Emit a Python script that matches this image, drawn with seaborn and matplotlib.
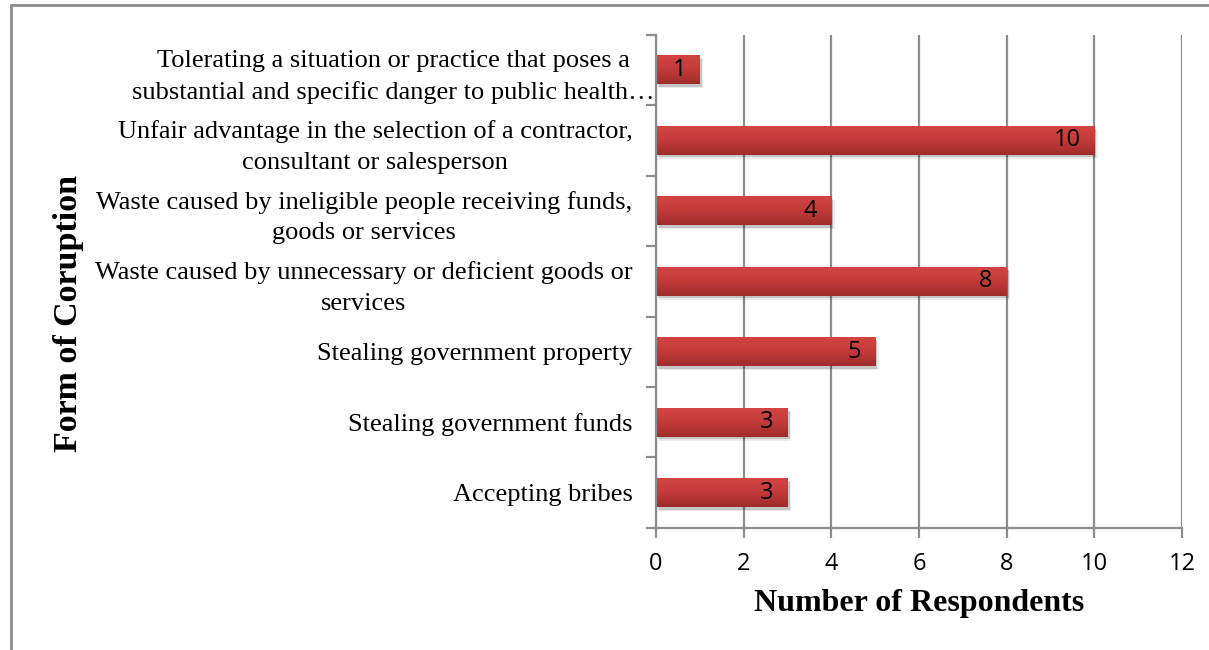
import numpy as np
import pandas as pd
import matplotlib
matplotlib.use("Agg")
import matplotlib.pyplot as plt
import seaborn as sns
from matplotlib import patheffects as pe
from matplotlib.colors import LinearSegmentedColormap
from matplotlib.lines import Line2D
from matplotlib.transforms import ScaledTranslation

# Survey results: forms of corruption observed and respondent counts
forms = [
    "Tolerating a situation or practice that poses a\nsubstantial and specific danger to public health\u2026",
    "Unfair advantage in the selection of a contractor,\nconsultant or salesperson",
    "Waste caused by ineligible people receiving funds,\ngoods or services",
    "Waste caused by unnecessary or deficient goods or\nservices",
    "Stealing government property",
    "Stealing government funds",
    "Accepting bribes",
]
respondents = [1, 10, 4, 8, 5, 3, 3]
x_ticks = [0, 2, 4, 6, 8, 10, 12]

df = pd.DataFrame({"form": forms, "count": respondents})

sns.set_theme(style="white")
plt.rcParams["font.family"] = ["Liberation Serif", "DejaVu Serif"]
plt.rcParams["text.color"] = "black"
plt.rcParams["axes.labelcolor"] = "black"
plt.rcParams["xtick.color"] = "black"
plt.rcParams["ytick.color"] = "black"

fig = plt.figure(figsize=(12.09, 6.5), dpi=100)
ax = fig.add_axes([0.5426, 0.1877, 0.4351, 0.7592])

sns.barplot(data=df, y="form", x="count", orient="h", order=forms,
            color="#c03a38", width=0.41, ax=ax, saturation=1)

# Red vertical gradient with a soft drop shadow on each bar
grad_cmap = LinearSegmentedColormap.from_list("barred", ["#d24441", "#c23b39", "#9e2c2b"])
gradient = np.linspace(0, 1, 64).reshape(-1, 1)
for patch in ax.patches:
    patch.set_path_effects([
        pe.SimplePatchShadow(offset=(1.5, -2.0), shadow_rgbFace="#000000", alpha=0.16),
        pe.SimplePatchShadow(offset=(2.5, -3.0), shadow_rgbFace="#000000", alpha=0.08),
        pe.Normal(),
    ])
    x0, y0 = patch.get_x(), patch.get_y()
    w, h = patch.get_width(), patch.get_height()
    im = ax.imshow(gradient, cmap=grad_cmap, aspect="auto",
                   extent=(x0, x0 + w, y0 + h, y0), origin="upper",
                   zorder=patch.get_zorder() + 0.1, interpolation="bilinear")
    im.set_clip_path(patch)
    patch.set_edgecolor("none")

ax.set_xlim(0, 12)
ax.set_ylim(6.5, -0.5)

# Value labels at the inside end of each bar
for i, v in enumerate(respondents):
    ax.annotate(str(v), xy=(v, i), xytext=(-10, 0), textcoords="offset points",
                ha="right", va="center", fontsize=17, color="black",
                family=["Open Sans", "DejaVu Sans"], zorder=5)

# Gridlines and axis styling
grid_color = "#8c8c8c"
ax.set_xticks(x_ticks)
ax.set_xticklabels([str(t) for t in x_ticks], family=["Open Sans", "DejaVu Sans"], fontsize=17)
ax.xaxis.grid(True, color=grid_color, linewidth=1.6)
ax.yaxis.grid(False)
ax.set_axisbelow(True)
for side in ["top", "right"]:
    ax.spines[side].set_visible(False)
for side in ["left", "bottom"]:
    ax.spines[side].set_color(grid_color)
    ax.spines[side].set_linewidth(1.6)

ax.tick_params(axis="x", which="major", length=7, width=1.6, color=grid_color,
               labelcolor="black", direction="out", bottom=True, pad=10)
ax.set_yticks(range(len(forms)))
ax.set_yticklabels(forms, fontsize=19, multialignment="center", color="black",
                   linespacing=1.5)
ax.tick_params(axis="y", which="major", length=0, pad=17)
ax.set_yticks(np.arange(-0.5, len(forms), 1.0), minor=True)
ax.tick_params(axis="y", which="minor", length=7, width=1.6, color=grid_color,
               direction="out", left=True)

# The truncated first label runs slightly past the others toward the axis
first = ax.get_yticklabels()[0]
first.set_transform(first.get_transform() + ScaledTranslation(0.22, 0, fig.dpi_scale_trans))

ax.set_xlabel("Number of Respondents", fontsize=23, fontweight="bold", labelpad=10,
              color="black")
ax.set_ylabel("Form of Coruption", fontsize=24.5, fontweight="bold", color="black")
ax.yaxis.set_label_coords(-1.087, 0.435)

# Frame lines along the top and left of the figure
fig.add_artist(Line2D([11 / 1209, 1.0], [1 - 5 / 650, 1 - 5 / 650],
                      transform=fig.transFigure, color="#8c8c8c", linewidth=2))
fig.add_artist(Line2D([11 / 1209, 11 / 1209], [0.0, 1 - 5 / 650],
                      transform=fig.transFigure, color="#8c8c8c", linewidth=2))

fig.savefig("out.png", dpi=100, facecolor="white")
